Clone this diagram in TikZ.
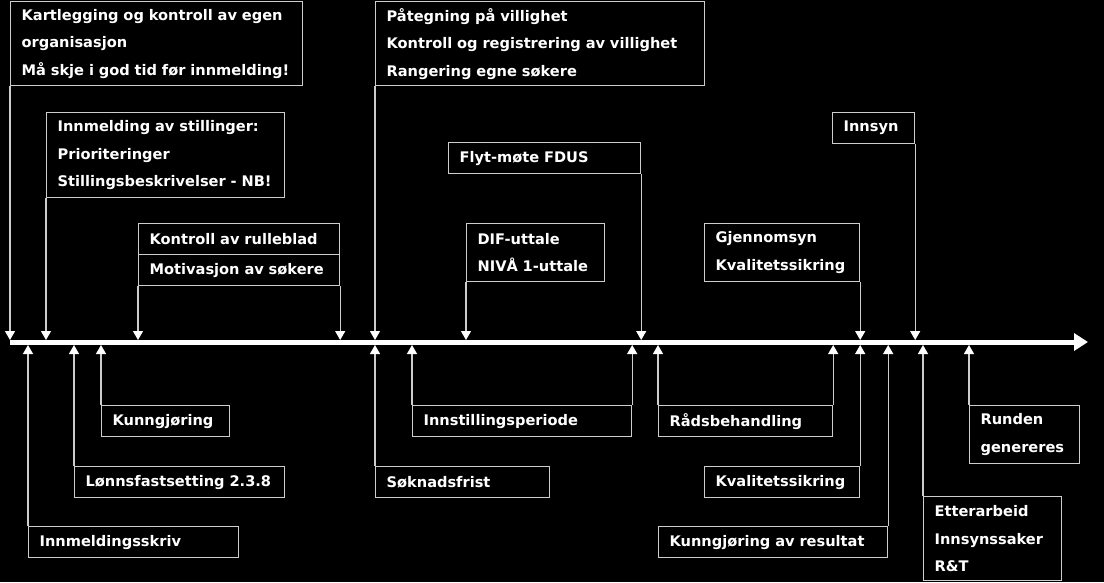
\documentclass[tikz,border=0pt]{standalone}
\usepackage{fontspec}
\setmainfont{DejaVu Sans}
\usepackage{tikz}
\usetikzlibrary{arrows.meta}
\definecolor{boxgray}{RGB}{205,205,205}

\tikzset{
    phase/.style = {draw = boxgray, line width = 1.2pt, anchor = north west,
        align = left, inner xsep = 11pt, inner ysep = 0pt, text = white,
        font = \fontsize{14.6}{27.5}\selectfont\bfseries},
    down/.style = {draw = boxgray, line width = 1.2pt,
        -{Triangle[width = 10pt, length = 9pt, color = white]}},
    up/.style = {down}
}

\begin{document}
\begin{tikzpicture}[x = 1pt, y = -1pt]

        \fill[black] (0,0) rectangle (1104,582);
        \useasboundingbox (0,0) rectangle (1104,582);

        \coordinate (tl_start) at (10,342);
        \coordinate (tl_end) at (1088,342);
        \coordinate (tl_top) at (0,340);
        \coordinate (tl_bottom) at (0,345);
        \draw[white, line width = 5pt, -{Triangle[width = 17pt, length = 14pt]}] (tl_start) -- (tl_end);

        \node (kartlegging)[phase, text width = 270pt, minimum height = 84pt]
        at (10,1) {Kartlegging og kontroll av egen\\organisasjon\\Må skje i god tid før innmelding!};
        \node (innmelding)[phase, text width = 216pt, minimum height = 85pt]
        at (46,112) {Innmelding av stillinger:\\Prioriteringer\\Stillingsbeskrivelser - NB!};
        \node (rulleblad)[phase, text width = 179pt, minimum height = 31pt]
        at (138,223) {Kontroll av rulleblad};
        \node (motivasjon)[phase, text width = 179pt, minimum height = 31pt]
        at (138,254) {Motivasjon av søkere};
        \node (paategning)[phase, text width = 307pt, minimum height = 84pt]
        at (375,1) {Påtegning på villighet\\Kontroll og registrering av villighet\\Rangering egne søkere};
        \node (flytmote)[phase, text width = 170pt, minimum height = 31pt]
        at (448,142) {Flyt-møte FDUS};
        \node (dif)[phase, text width = 116pt, minimum height = 58pt]
        at (466,223) {DIF-uttale\\NIVÅ 1-uttale};
        \node (gjennomsyn)[phase, text width = 133pt, minimum height = 58pt]
        at (704,223) {Gjennomsyn\\Kvalitetssikring};
        \node (innsyn)[phase, text width = 60pt, minimum height = 31pt]
        at (832,112) {Innsyn};

        \node (kunngjoring)[phase, text width = 106pt, minimum height = 31pt]
        at (101,405) {Kunngjøring};
        \node (lonn)[phase, text width = 188pt, minimum height = 31pt]
        at (74,466) {Lønnsfastsetting 2.3.8};
        \node (skriv)[phase, text width = 188pt, minimum height = 31pt]
        at (28,526) {Innmeldingsskriv};
        \node (frist)[phase, text width = 152pt, minimum height = 31pt]
        at (375,466) {Søknadsfrist};
        \node (innstilling)[phase, text width = 197pt, minimum height = 31pt]
        at (412,405) {Innstillingsperiode};
        \node (raad)[phase, text width = 152pt, minimum height = 31pt]
        at (658,405) {Rådsbehandling};
        \node (kvalitet)[phase, text width = 133pt, minimum height = 31pt]
        at (704,466) {Kvalitetssikring};
        \node (resultat)[phase, text width = 207pt, minimum height = 31pt]
        at (658,526) {Kunngjøring av resultat};
        \node (etterarbeid)[phase, text width = 116pt, minimum height = 84pt]
        at (923,496) {Etterarbeid\\Innsynssaker\\R\&T};
        \node (runden)[phase, text width = 88pt, minimum height = 58pt]
        at (969,405) {Runden\\genereres};

        \path (kartlegging.south west) edge[down] (kartlegging.south west |- tl_top);
        \path (innmelding.south west) edge[down] (innmelding.south west |- tl_top);
        \path (motivasjon.south west) edge[down] (motivasjon.south west |- tl_top);
        \path (motivasjon.south east) edge[down] (motivasjon.south east |- tl_top);
        \path (paategning.south west) edge[down] (paategning.south west |- tl_top);
        \path (flytmote.south east) edge[down] (flytmote.south east |- tl_top);
        \path (dif.south west) edge[down] (dif.south west |- tl_top);
        \path (gjennomsyn.south east) edge[down] (gjennomsyn.south east |- tl_top);
        \path (innsyn.south east) edge[down] (innsyn.south east |- tl_top);

        \path (skriv.north west) edge[up] (skriv.north west |- tl_bottom);
        \path (lonn.north west) edge[up] (lonn.north west |- tl_bottom);
        \path (kunngjoring.north west) edge[up] (kunngjoring.north west |- tl_bottom);
        \path (frist.north west) edge[up] (frist.north west |- tl_bottom);
        \path (innstilling.north west) edge[up] (innstilling.north west |- tl_bottom);
        \path (innstilling.north east) edge[up] (innstilling.north east |- tl_bottom);
        \path (raad.north west) edge[up] (raad.north west |- tl_bottom);
        \path (raad.north east) edge[up] (raad.north east |- tl_bottom);
        \path (kvalitet.north east) edge[up] (kvalitet.north east |- tl_bottom);
        \path (resultat.north east) edge[up] (resultat.north east |- tl_bottom);
        \path (etterarbeid.north west) edge[up] (etterarbeid.north west |- tl_bottom);
        \path (runden.north west) edge[up] (runden.north west |- tl_bottom);
    \end{tikzpicture}
\end{document}
